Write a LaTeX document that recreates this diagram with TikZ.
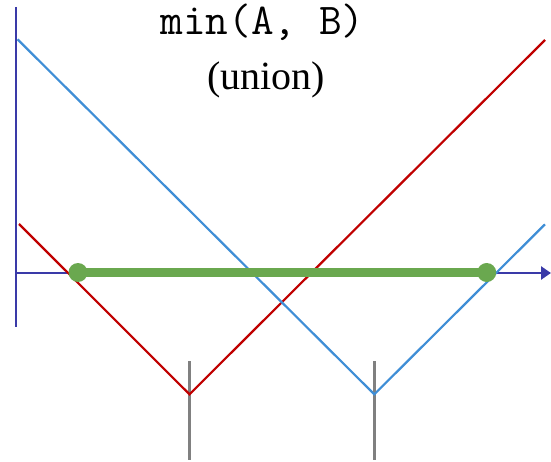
\documentclass[tikz,border=0pt]{standalone}
\usepackage{fontspec}
\setmainfont{Liberation Serif}
\usetikzlibrary{arrows.meta}
\definecolor{axisblue}{HTML}{3A3AA8}
\definecolor{fred}{HTML}{C00000}
\definecolor{fblue}{HTML}{3F8ED6}
\definecolor{ugreen}{HTML}{6AA84F}
\definecolor{tgray}{HTML}{808080}
\begin{document}
\begin{tikzpicture}[x=1pt,y=-1pt,
  axisline/.style={draw=axisblue,line width=2.8pt},
  fnline/.style={line width=2.2pt,line join=miter},
  tick/.style={draw=tgray,line width=3pt},
  title/.style={inner sep=0pt,anchor=base}]
\useasboundingbox (0,0) rectangle (551,462);
% coordinates
\coordinate (ytop) at (16,7);
\coordinate (ybot) at (16,327);
\coordinate (xl) at (16,273);
\coordinate (xr) at (551,273);
\coordinate (r1) at (19,224);
\coordinate (rv) at (189.5,394.3);
\coordinate (r2) at (545,40);
\coordinate (b1) at (17.5,39.3);
\coordinate (bv) at (374.3,394.3);
\coordinate (b2) at (545,224.3);
\coordinate (g1t) at (189.5,361);
\coordinate (g1b) at (189.5,460);
\coordinate (g2t) at (374.3,361);
\coordinate (g2b) at (374.3,460);
\coordinate (u1) at (78,272.5);
\coordinate (u2) at (486.7,272.5);
% titles
\node[title,font=\fontsize{44}{46}\selectfont\ttfamily] (t1) at (262.5,35) {min(A, B)};
\node[title,font=\fontsize{40}{42}\selectfont] (t2) at (266,90) {(union)};
% axes
\draw[axisline] (ytop) -- (ybot);
\draw[axisline,-{Triangle[length=10pt,width=13pt]}] (xl) -- (xr);
% ticks
\draw[tick] (g1t) -- (g1b);
\draw[tick] (g2t) -- (g2b);
% functions
\draw[fnline,draw=fred] (r1) -- (rv) -- (r2);
\draw[fnline,draw=fblue] (b1) -- (bv) -- (b2);
% union interval
\draw[draw=ugreen,line width=8.5pt] (u1) -- (u2);
\fill[ugreen] (u1) circle (9.5);
\fill[ugreen] (u2) circle (9.5);
\end{tikzpicture}
\end{document}
